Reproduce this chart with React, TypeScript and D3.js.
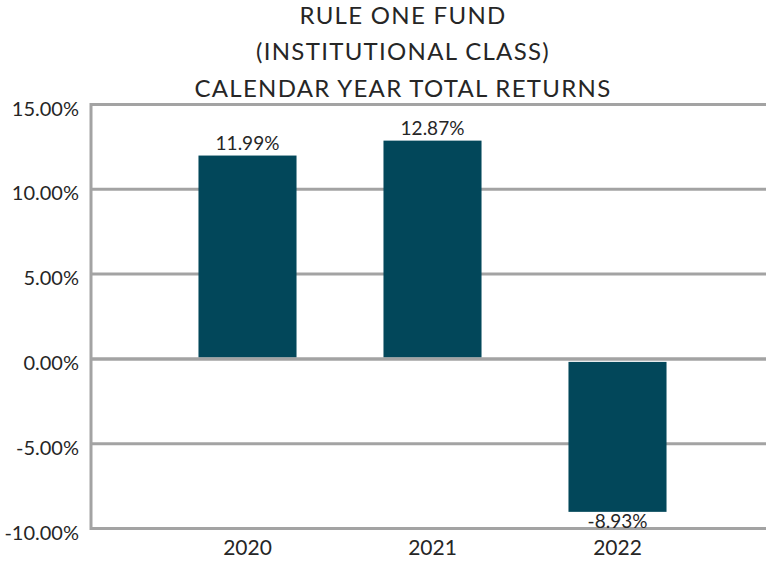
import React from "react";
import * as d3 from "d3";

const titleLines = ["RULE ONE FUND", "(INSTITUTIONAL CLASS)", "CALENDAR YEAR TOTAL RETURNS"];
const years = ["2020", "2021", "2022"];
const returns = [11.99, 12.87, -8.93];
const yTicks = [15, 10, 5, 0, -5, -10];

const W = 766;
const H = 561;
const FONT = "Lato, 'Open Sans', sans-serif";
const BAR = "#02475a";
const GRID = "#a3a3a3";
const TEXT = "#262626";

export default function App() {
  const y = d3.scaleLinear().domain([-10, 15]).range([528.5, 104.5]);
  const x = d3
    .scaleBand<string>()
    .domain(years)
    .range([155, 710])
    .paddingInner(0.47)
    .paddingOuter(0.235);
  const axisX = 91;
  const fmt = (v: number) => v.toFixed(2) + "%";

  return (
    <svg
      width={W}
      height={H}
      style={{ position: "absolute", left: 0, top: 0, background: "#fff" }}
      fontFamily={FONT}
    >
      {titleLines.map((t, i) => (
        <text
          key={t}
          x={403}
          y={23.5 + i * 36.8}
          textAnchor="middle"
          fontSize={24}
          letterSpacing={1.3}
          fill={TEXT}
        >
          {t}
        </text>
      ))}

      {yTicks.map((v) => (
        <g key={v}>
          <line x1={axisX} x2={W} y1={y(v)} y2={y(v)} stroke={GRID} strokeWidth={3} />
          <text
            x={79}
            y={y(v) + 3}
            dominantBaseline="central"
            textAnchor="end"
            fontSize={20}
            fill={TEXT}
          >
            {fmt(v)}
          </text>
        </g>
      ))}

      {returns.map((v, i) => {
        const x0 = x(years[i])!;
        const top = y(Math.max(0, v));
        const bot = y(Math.min(0, v));
        return (
          <g key={years[i]}>
            <rect
              x={x0}
              y={v >= 0 ? top : top + 3}
              width={x.bandwidth()}
              height={bot - top - 1.5}
              fill={BAR}
            />
            <text
              x={x0 + x.bandwidth() / 2}
              y={v >= 0 ? top - 6 : bot + 18}
              textAnchor="middle"
              fontSize={19}
              fill={TEXT}
            >
              {fmt(v)}
            </text>
          </g>
        );
      })}

      <line x1={axisX} x2={axisX} y1={y(15) - 1.5} y2={y(-10) + 1.5} stroke={GRID} strokeWidth={3} />
      <line x1={axisX} x2={W} y1={y(0)} y2={y(0)} stroke={GRID} strokeWidth={3} />

      {years.map((yr) => (
        <text
          key={yr}
          x={x(yr)! + x.bandwidth() / 2}
          y={555}
          textAnchor="middle"
          fontSize={21}
          fill={TEXT}
        >
          {yr}
        </text>
      ))}
    </svg>
  );
}
